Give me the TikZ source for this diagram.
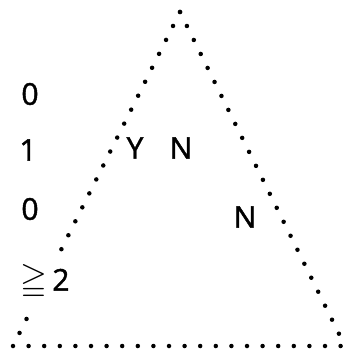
\documentclass[tikz,border=0pt]{standalone}
\usepackage{amssymb}
\usepackage{fontspec}
\setmainfont{Open Sans}[FakeBold=1.5]

\tikzset{
  dotline/.style={line width=4.5pt, line cap=round, dash pattern=on 0pt off 15.6pt},
  lbl/.style={font=\fontsize{30}{34}\selectfont, inner sep=1pt}
}

\begin{document}
\begin{tikzpicture}[x=1pt, y=-1pt]
  \useasboundingbox (0,0) rectangle (351,350);
  % corners of the triangle
  \coordinate (top) at (180,12);
  \coordinate (bl) at (13,346);
  \coordinate (br) at (345,346);
  \draw[dotline] (top) -- (bl);
  \draw[dotline] (bl) -- (br);
  \draw[dotline] (top) -- (br);

  % column of counts
  \node[lbl] (cnta) at (30,94) {0};
  \node[lbl] (cntb) at (28,150) {1};
  \node[lbl] (cntc) at (30,209) {0};
  \node[lbl, fill=white, minimum height=56pt] (cntd) at (45,282) {\scalebox{1.15}{$\geqq$}\,2};

  % answers
  \node[lbl] (ansy) at (135,148) {Y};
  \node[lbl] (ansn) at (181,148) {N};
  \node[lbl] (ansm) at (245,217) {N};
\end{tikzpicture}
\end{document}
